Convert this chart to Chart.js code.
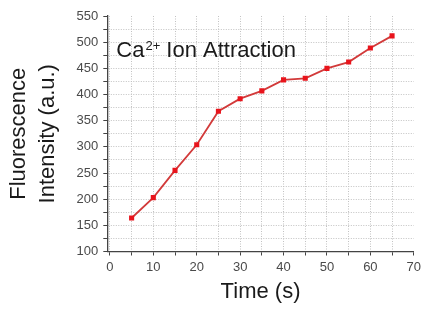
<!DOCTYPE html>
<html>
<head>
<meta charset="utf-8">
<script src="https://cdn.jsdelivr.net/npm/chart.js@4.4.1/dist/chart.umd.min.js"></script>
<style>
    html, body { margin: 0; padding: 0; background: #fff; }
    #wrap { width: 425px; height: 310px; }
</style>
</head>
<body>
<div id="wrap"><canvas id="fluoChart"></canvas></div>
<script>
// time (s) and intensity (a.u.)
const times = [5, 10, 15, 20, 25, 30, 35, 40, 45, 50, 55, 60, 65];
const intensity = [164, 203, 255, 304, 368, 392, 407, 428, 431, 450, 462, 489, 512];

// axis ticks (minor every 5 / 25, labels on 10 / 50)
const xTickValues = [0, 5, 10, 15, 20, 25, 30, 35, 40, 45, 50, 55, 60, 65, 70];
const yTickValues = [100, 125, 150, 175, 200, 225, 250, 275, 300, 325, 350, 375, 400, 425, 450, 475, 500, 525, 550];
const xLabelStep = 10;
const yLabelStep = 50;

const FONT = "'Liberation Sans', Arial, Helvetica, sans-serif";

// "Ca2+ Ion Attraction" label with a real superscript
const labelPlugin = {
    id: "ionLabel",
    afterDraw(chart) {
        const ctx = chart.ctx;
        const x0 = chart.chartArea.left + 9;
        const base = 56.5;
        ctx.save();
        ctx.fillStyle = "#1a1a1a";
        ctx.textBaseline = "alphabetic";
        ctx.textAlign = "left";
        ctx.font = "22px " + FONT;
        ctx.fillText("Ca", x0, base);
        let x = x0 + ctx.measureText("Ca").width + 1;
        ctx.font = "13px " + FONT;
        ctx.fillText("2+", x, base - 7);
        x += ctx.measureText("2+").width;
        ctx.font = "22px " + FONT;
        ctx.fillText(" Ion Attraction", x, base);
        ctx.restore();
    }
};

const ctx = document.getElementById("fluoChart").getContext("2d");

new Chart(ctx, {
    type: "line",
    data: {
        datasets: [{
            data: times.map((t, i) => ({ x: t, y: intensity[i] })),
            borderColor: "#d23a3a",
            borderWidth: 1.8,
            pointStyle: "rect",
            pointRadius: 3.6,
            pointBackgroundColor: "#e8141c",
            pointBorderColor: "#e8141c",
            pointBorderWidth: 0,
            tension: 0
        }]
    },
    options: {
        responsive: true,
        maintainAspectRatio: false,
        animation: false,
        layout: { padding: { left: 0, right: 9, top: 16, bottom: 0 } },
        plugins: {
            legend: { display: false },
            tooltip: { enabled: false }
        },
        scales: {
            x: {
                type: "linear",
                min: -0.6,
                max: 70,
                afterBuildTicks: scale => {
                    scale.ticks = xTickValues.map(v => ({ value: v }));
                },
                afterFit: scale => { scale.height = 58.5; },
                ticks: {
                    autoSkip: false,
                    maxRotation: 0,
                    padding: 4,
                    color: "#4a4a4a",
                    font: { family: FONT, size: 13 },
                    callback: v => (v % xLabelStep === 0 ? String(v) : "")
                },
                grid: {
                    color: c => (c.tick && c.tick.value === 70 ? "rgba(0,0,0,0)" : "#c2c2c2"),
                    lineWidth: 1,
                    tickLength: 4,
                    tickColor: "#444",
                    tickWidth: 1
                },
                border: { display: true, color: "#444", width: 1.3, dash: [1, 1.5] },
                title: {
                    display: true,
                    text: "Time (s)",
                    color: "#1a1a1a",
                    font: { family: FONT, size: 22, lineHeight: 1.2 },
                    padding: { top: 0, bottom: 5 }
                }
            },
            y: {
                type: "linear",
                min: 100,
                max: 550,
                afterBuildTicks: scale => {
                    scale.ticks = yTickValues.map(v => ({ value: v }));
                },
                afterFit: scale => { scale.width = 107.3; },
                ticks: {
                    autoSkip: false,
                    padding: 5,
                    color: "#4a4a4a",
                    font: { family: FONT, size: 13 },
                    callback: v => (v % yLabelStep === 0 ? String(v) : "")
                },
                grid: {
                    color: c => (c.tick && c.tick.value === 550 ? "rgba(0,0,0,0)" : "#c2c2c2"),
                    lineWidth: 1,
                    tickLength: 4,
                    tickColor: "#444",
                    tickWidth: 1
                },
                border: { display: true, color: "#444", width: 1.3, dash: [1, 1.5] },
                title: {
                    display: true,
                    text: ["Fluorescence", "Intensity (a.u.)"],
                    color: "#1a1a1a",
                    font: { family: FONT, size: 22, lineHeight: 1.3 },
                    padding: { top: 5, bottom: 0 }
                }
            }
        }
    },
    plugins: [labelPlugin]
});
</script>
</body>
</html>
